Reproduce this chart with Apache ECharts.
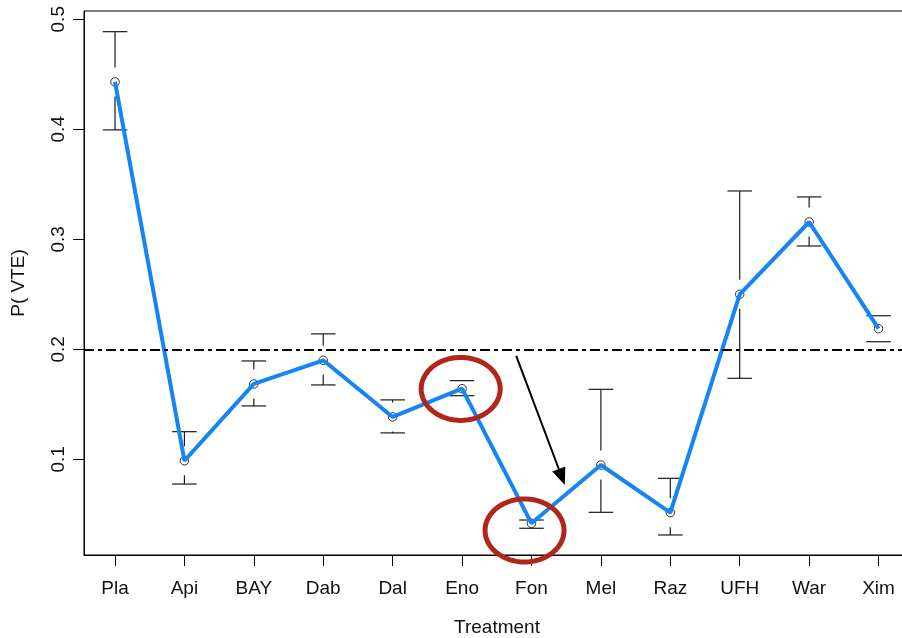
<!DOCTYPE html>
<html>
<head>
<meta charset="utf-8">
<script src="https://cdn.jsdelivr.net/npm/echarts@6/dist/echarts.min.js"></script>
<style>
  html, body { margin: 0; padding: 0; background: #fff; overflow: hidden; }
  #chart { width: 914px; height: 638px; }
</style>
</head>
<body>
<div id="chart"></div>
<script>
// Treatments on the x axis
const treatments = ['Pla', 'Api', 'BAY', 'Dab', 'Dal', 'Eno', 'Fon', 'Mel', 'Raz', 'UFH', 'War', 'Xim'];
// Estimated probability of VTE per treatment
const pVte = [0.443, 0.0987, 0.1685, 0.190, 0.1385, 0.1642, 0.0418, 0.0948, 0.0515, 0.250, 0.3157, 0.2187];
// Interval bounds
const ciLow = [0.3994, 0.0775, 0.1485, 0.1676, 0.124, 0.1578, 0.0373, 0.0518, 0.0312, 0.1736, 0.2939, 0.2069];
const ciHigh = [0.4887, 0.1251, 0.1894, 0.214, 0.154, 0.1715, 0.0448, 0.1636, 0.0827, 0.3439, 0.3385, 0.2305];
// Y tick labels
const yTicks = [0.1, 0.2, 0.3, 0.4, 0.5];
// Reference threshold
const refLevel = 0.2;
// Highlight rings (centre in axis units)
const highlightRings = [[4.98, 0.164], [5.9, 0.0353]];
// Arrow from near the threshold down towards Fon
const arrowFrom = [5.78, 0.194];
const arrowTo = [6.48, 0.0767];

const FONT = "'Liberation Sans', Arial, Helvetica, sans-serif";
const TEXT = '#111';
const tickIdx = treatments.map((_, i) => i);

const chart = echarts.init(document.getElementById('chart'), null, { renderer: 'canvas' });

const errData = treatments.map((_, i) => [i, ciLow[i], ciHigh[i], pVte[i]]);

function renderErr(params, api) {
  const x = api.value(0);
  const pLo = api.coord([x, api.value(1)]);
  const pHi = api.coord([x, api.value(2)]);
  const pMid = api.coord([x, api.value(3)]);
  const half = 12.3, gap = 14.5;
  const st = { stroke: '#1a1a1a', lineWidth: 1.2 };
  const kids = [
    { type: 'line', shape: { x1: pHi[0] - half, y1: pHi[1], x2: pHi[0] + half, y2: pHi[1] }, style: st },
    { type: 'line', shape: { x1: pLo[0] - half, y1: pLo[1], x2: pLo[0] + half, y2: pLo[1] }, style: st }
  ];
  if (pMid[1] - gap > pHi[1]) {
    kids.push({ type: 'line', shape: { x1: pHi[0], y1: pHi[1], x2: pHi[0], y2: pMid[1] - gap }, style: st });
  }
  if (pMid[1] + gap < pLo[1]) {
    kids.push({ type: 'line', shape: { x1: pLo[0], y1: pMid[1] + gap, x2: pLo[0], y2: pLo[1] }, style: st });
  }
  return { type: 'group', children: kids };
}

function renderRing(params, api) {
  const c = api.coord([api.value(0), api.value(1)]);
  const rx = 39.5, ry = 31.5;
  const pts = [];
  for (let k = 0; k < 96; k++) {
    const t = (k / 96) * Math.PI * 2;
    pts.push([c[0] + rx * Math.cos(t), c[1] + ry * Math.sin(t)]);
  }
  return { type: 'polygon', shape: { points: pts }, style: { fill: 'none', stroke: '#B1261A', lineWidth: 5 } };
}

function renderArrow(params, api) {
  const a = api.coord([api.value(0), api.value(1)]);
  const b = api.coord([api.value(2), api.value(3)]);
  const dx = b[0] - a[0], dy = b[1] - a[1];
  const len = Math.sqrt(dx * dx + dy * dy);
  const ux = dx / len, uy = dy / len;
  const headLen = 17, headHalf = 7;
  const bx = b[0] - ux * headLen, by = b[1] - uy * headLen;
  return {
    type: 'group',
    children: [
      { type: 'line', shape: { x1: a[0], y1: a[1], x2: bx, y2: by }, style: { stroke: '#000', lineWidth: 2 } },
      { type: 'polygon', shape: { points: [[b[0], b[1]], [bx - uy * headHalf, by + ux * headHalf], [bx + uy * headHalf, by - ux * headHalf]] },
        style: { fill: '#000' } }
    ]
  };
}

const option = {
  animation: false,
  backgroundColor: '#fff',
  grid: {
    left: 84, top: 11, width: 826, height: 544,
    outerBoundsMode: 'none',
    containLabel: false,
    show: true, borderColor: '#000', borderWidth: 1, backgroundColor: 'transparent'
  },
  xAxis: {
    type: 'value',
    min: -0.4467,
    max: 11.4533,
    name: 'Treatment',
    nameLocation: 'middle',
    nameGap: 63,
    nameTextStyle: { fontFamily: FONT, fontSize: 19, color: TEXT },
    axisLine: { show: true, onZero: false, lineStyle: { color: '#000', width: 1 } },
    axisTick: { show: true, customValues: tickIdx, length: 11, lineStyle: { color: '#000', width: 1 } },
    axisLabel: {
      customValues: tickIdx,
      margin: 24,
      fontFamily: FONT, fontSize: 19, color: TEXT,
      formatter: v => treatments[Math.round(v)]
    },
    splitLine: { show: false }
  },
  yAxis: {
    type: 'value',
    min: 0.013,
    max: 0.5075,
    name: 'P( VTE)',
    nameLocation: 'middle',
    nameGap: 56,
    nameRotate: 90,
    nameTextStyle: { fontFamily: FONT, fontSize: 19, color: TEXT },
    axisLine: { show: true, onZero: false, lineStyle: { color: '#000', width: 1 } },
    axisTick: { show: true, customValues: yTicks, length: 11, lineStyle: { color: '#000', width: 1 } },
    axisLabel: {
      customValues: yTicks,
      rotate: 90,
      margin: 16,
      fontFamily: FONT, fontSize: 19, color: TEXT,
      formatter: v => String(Math.round(v * 10) / 10)
    },
    splitLine: { show: false }
  },
  series: [
    {
      type: 'custom',
      name: 'ref',
      data: [[refLevel]],
      renderItem: () => null,
      markLine: {
        silent: true,
        symbol: ['none', 'none'],
        label: { show: false },
        lineStyle: { color: '#000', width: 2, type: [10, 4, 4, 4] },
        data: [{ yAxis: refLevel }]
      },
      z: 1
    },
    {
      type: 'custom',
      name: 'interval',
      data: errData,
      renderItem: renderErr,
      z: 2
    },
    {
      type: 'scatter',
      name: 'points',
      data: treatments.map((_, i) => [i, pVte[i]]),
      symbol: 'circle',
      symbolSize: 8.5,
      itemStyle: { color: '#fff', borderColor: '#000', borderWidth: 1 },
      z: 3
    },
    {
      type: 'line',
      name: 'P( VTE)',
      data: treatments.map((_, i) => [i, pVte[i]]),
      showSymbol: false,
      symbol: 'none',
      lineStyle: { color: '#1585F5', width: 4 },
      z: 4
    },
    {
      type: 'custom',
      name: 'rings',
      data: highlightRings,
      renderItem: renderRing,
      z: 5
    },
    {
      type: 'custom',
      name: 'arrow',
      data: [[arrowFrom[0], arrowFrom[1], arrowTo[0], arrowTo[1]]],
      renderItem: renderArrow,
      z: 5
    }
  ]
};

chart.setOption(option);
</script>
</body>
</html>
